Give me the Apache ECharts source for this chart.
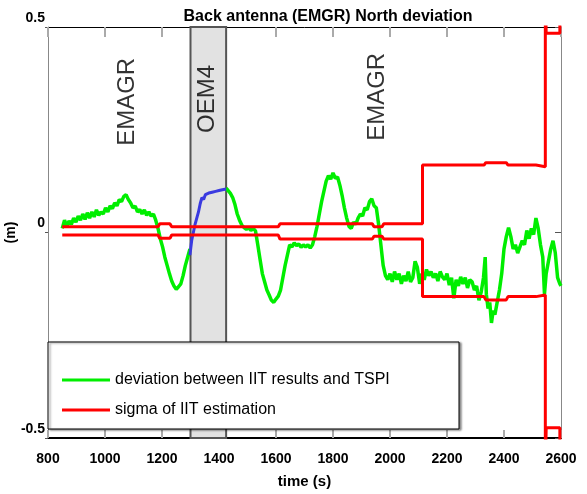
<!DOCTYPE html>
<html lang="en">
<head>
    <meta charset="UTF-8">
    <title>Back antenna (EMGR) North deviation</title>
    <script src="https://cdn.jsdelivr.net/npm/echarts@6/dist/echarts.min.js"></script>
    <style>
        html, body, #main {
            padding: 0px;
            margin: 0px;
            width: 587px;
            height: 494px;
            background: #fff;
        }
    </style>
</head>
<body>
<div id="main"></div>
<script type="text/javascript">
    // green: deviation between IIT results and TSPI (null = gap during OEM4 period)
    var greenTime = [850, 858, 866, 874, 882, 890, 898, 906, 914, 922, 930, 938, 946, 954, 962, 970, 978, 986, 994,
        1002, 1010, 1018, 1026, 1034, 1042, 1050, 1058, 1066, 1074, 1082, 1090, 1098, 1106, 1114, 1122, 1130, 1138,
        1146, 1154, 1162, 1170, 1178, 1186, 1194, 1202, 1210, 1218, 1226, 1234, 1242, 1250, 1258, 1266, 1274, 1282,
        1290, 1298, 1360,
        1425, 1432, 1440, 1448, 1456, 1464, 1472, 1480, 1488, 1496, 1504, 1512, 1520, 1528, 1536, 1544, 1552, 1560,
        1568, 1576, 1584, 1592, 1600, 1608, 1616, 1624, 1632, 1640, 1648, 1656, 1664, 1672, 1680, 1688, 1696, 1704,
        1712, 1720, 1728, 1736, 1744, 1752, 1760, 1768, 1776, 1784, 1792, 1800, 1808, 1816, 1824, 1832, 1840, 1848,
        1856, 1864, 1872, 1880, 1888, 1896, 1904, 1912, 1920, 1928, 1936, 1944, 1952, 1960, 1968, 1976, 1984, 1992,
        2000, 2008, 2016, 2024, 2032, 2040, 2048, 2056, 2064, 2072, 2080, 2088, 2096, 2104, 2112, 2120, 2128, 2136,
        2144, 2152, 2160, 2168, 2176, 2184, 2192, 2200, 2208, 2216, 2224, 2232, 2240, 2248, 2256, 2264, 2272, 2280,
        2288, 2296, 2304, 2312, 2320, 2328, 2334, 2338, 2344, 2350, 2356, 2362, 2368, 2376, 2384, 2392, 2400, 2408,
        2416, 2424, 2432, 2440, 2448, 2456, 2464, 2472, 2480, 2488, 2496, 2504, 2512, 2520, 2528, 2536, 2542, 2548,
        2556, 2564, 2572, 2580, 2588, 2596, 2600];
    var greenDev = [0.010, 0.030, 0.015, 0.028, 0.020, 0.035, 0.025, 0.040, 0.030, 0.045, 0.032, 0.048, 0.035, 0.050,
        0.038, 0.055, 0.042, 0.050, 0.045, 0.060, 0.050, 0.065, 0.058, 0.072, 0.065, 0.080, 0.075, 0.088, 0.092,
        0.080, 0.072, 0.060, 0.064, 0.050, 0.056, 0.045, 0.055, 0.042, 0.050, 0.040, 0.045, 0.030, 0.010, -0.015,
        -0.035, -0.060, -0.080, -0.100, -0.118, -0.130, -0.138, -0.132, -0.125, -0.105, -0.080, -0.060, -0.040, null,
        0.108, 0.110, 0.095, 0.085, 0.068, 0.045, 0.030, 0.018, 0.012, 0.008, 0.012, 0.005, 0.010, 0.004, -0.030,
        -0.065, -0.100, -0.120, -0.140, -0.152, -0.165, -0.170, -0.162, -0.155, -0.140, -0.110, -0.080, -0.055,
        -0.030, -0.035, -0.025, -0.032, -0.028, -0.036, -0.030, -0.035, -0.030, -0.038, -0.030, -0.010, 0.015, 0.045,
        0.075, 0.100, 0.125, 0.138, 0.130, 0.145, 0.132, 0.135, 0.115, 0.090, 0.060, 0.035, 0.015, 0.010, 0.025,
        0.020, 0.035, 0.045, 0.040, 0.060, 0.055, 0.075, 0.082, 0.065, 0.060, 0.020, -0.030, -0.080, -0.105, -0.115,
        -0.100, -0.120, -0.095, -0.115, -0.100, -0.125, -0.105, -0.118, -0.095, -0.120, -0.110, -0.070, -0.085,
        -0.125, -0.100, -0.115, -0.090, -0.105, -0.095, -0.110, -0.100, -0.118, -0.095, -0.108, -0.115, -0.100,
        -0.128, -0.110, -0.160, -0.115, -0.130, -0.108, -0.125, -0.110, -0.135, -0.115, -0.120, -0.140, -0.130,
        -0.165, -0.145, -0.110, -0.060, -0.150, -0.185, -0.170, -0.220, -0.190, -0.200, -0.170, -0.140, -0.100,
        -0.040, -0.010, 0.012, -0.010, -0.040, -0.030, -0.050, -0.035, -0.020, -0.030, 0.005, -0.015, 0.010, -0.005,
        0.035, 0.010, -0.030, -0.060, -0.150, -0.100, -0.070, -0.040, -0.020, -0.050, -0.110, -0.125, -0.130];

    // blue: OEM4 period
    var blueTime = [1298, 1304, 1310, 1316, 1322, 1328, 1334, 1340, 1346, 1352, 1358, 1364, 1370, 1376, 1382, 1388,
        1394, 1400, 1406, 1412, 1418, 1425];
    var blueDev = [-0.055, -0.020, 0.000, 0.020, 0.035, 0.050, 0.070, 0.085, 0.080, 0.092, 0.088, 0.096, 0.092,
        0.098, 0.094, 0.100, 0.096, 0.102, 0.098, 0.104, 0.100, 0.106];

    // red: sigma of IIT estimation (upper / lower envelopes)
    var sigmaTime = [850, 1186, 1192, 1228, 1234, 1608, 1614, 1938, 1944, 1972, 1978, 2114, 2114, 2330, 2336,
        2408, 2414, 2512, 2518, 2545, 2545, 2548, 2548, 2596, 2596];
    var sigmaUp = [0.014, 0.014, 0.021, 0.021, 0.014, 0.014, 0.021, 0.021, 0.014, 0.014, 0.021, 0.021, 0.164,
        0.164, 0.170, 0.170, 0.164, 0.164, 0.160, 0.160, 0.600, 0.600, 0.485, 0.485, 0.600];
    var sigmaLow = [-0.006, -0.006, -0.014, -0.014, -0.006, -0.006, -0.016, -0.016, -0.009, -0.009, -0.016,
        -0.016, -0.156, -0.156, -0.164, -0.164, -0.156, -0.156, -0.152, -0.152, -0.600, -0.600, -0.475, -0.475,
        -0.600];

    // receiver periods
    var oemBand = [1300, 1425];
    var noteX = [1077, 1358, 1954];
    var noteY = [0.318, 0.325, 0.33];
    var noteText = ['EMAGR', 'OEM4', 'EMAGR'];

    var yTicks = [-0.5, 0, 0.5];

    function zip(a, b) {
        return a.map(function (v, i) { return [v, b[i]]; });
    }

    var chart = echarts.init(document.getElementById('main'));
    var bold = { fontFamily: 'Arial, Liberation Sans', fontWeight: 'bold', color: '#000' };

    var option = {
        animation: false,
        backgroundColor: '#fff',
        title: {
            text: 'Back antenna (EMGR) North deviation',
            left: 323,
            top: 4,
            textAlign: 'center',
            textStyle: Object.assign({ fontSize: 16 }, bold)
        },
        grid: { left: 48, right: 26, top: 27, bottom: 56, containLabel: false, outerBoundsMode: 'none' },
        legend: {
            orient: 'vertical',
            left: 57,
            top: 366,
            z: 20,
            icon: 'rect',
            itemWidth: 48,
            itemHeight: 3,
            itemGap: 12,
            data: ['deviation between IIT results and TSPI', 'sigma of IIT estimation'],
            textStyle: { fontFamily: 'Arial, Liberation Sans', fontSize: 16, color: '#000', lineHeight: 18 }
        },
        graphic: [{
            type: 'rect',
            z: 10,
            shape: { x: 48, y: 342, width: 411, height: 87 },
            style: { fill: '#fff', stroke: '#000', lineWidth: 1, shadowColor: 'rgba(0,0,0,0.45)', shadowOffsetX: 2, shadowOffsetY: 1, shadowBlur: 2 }
        }],
        xAxis: [{
            type: 'value',
            min: 800,
            max: 2600,
            interval: 200,
            name: 'time (s)',
            nameLocation: 'middle',
            nameGap: 36,
            nameTextStyle: Object.assign({ fontSize: 15 }, bold),
            axisLine: { onZero: false, lineStyle: { color: '#000', width: 2 } },
            axisTick: { inside: true, length: 8, lineStyle: { color: '#aaa', width: 2 } },
            axisLabel: Object.assign({ fontSize: 14, margin: 14, formatter: function (v) { return String(v); } }, bold),
            splitLine: { show: false }
        }, {
            type: 'value',
            position: 'top',
            min: 800,
            max: 2600,
            interval: 200,
            axisLine: { onZero: false, lineStyle: { color: '#000', width: 1 } },
            axisTick: { inside: true, length: 10, lineStyle: { color: '#aaa', width: 2 } },
            axisLabel: { show: false },
            splitLine: { show: false }
        }],
        yAxis: [{
            type: 'value',
            min: yTicks[0],
            max: yTicks[2],
            interval: 0.5,
            name: '(m)',
            nameLocation: 'middle',
            nameRotate: 90,
            nameGap: 30,
            nameMoveOverlap: false,
            nameTextStyle: Object.assign({ fontSize: 14 }, bold),
            axisLine: { onZero: false, lineStyle: { color: '#888', width: 1 } },
            axisTick: { show: true, length: 3, lineStyle: { color: '#555' } },
            axisLabel: Object.assign({ fontSize: 14, margin: 3, verticalAlign: 'bottom', padding: [0, 0, 2, 0] }, bold),
            splitLine: { show: false }
        }, {
            type: 'value',
            position: 'right',
            min: yTicks[0],
            max: yTicks[2],
            interval: 0.5,
            axisLine: { onZero: false, lineStyle: { color: '#888', width: 1 } },
            axisTick: { inside: true, length: 6, lineStyle: { color: '#555' } },
            axisLabel: { show: false },
            splitLine: { show: false }
        }],
        series: [{
            type: 'line',
            z: 1,
            data: [],
            markArea: {
                silent: true,
                itemStyle: { color: '#e2e2e2', borderColor: '#555', borderWidth: 2 },
                data: [[{ xAxis: oemBand[0] }, { xAxis: oemBand[1] }]]
            }
        }, {
            name: 'deviation between IIT results and TSPI',
            type: 'line',
            z: 3,
            showSymbol: false,
            symbol: 'none',
            connectNulls: false,
            color: '#00ee00',
            lineStyle: { color: '#00ee00', width: 3.5 },
            data: zip(greenTime, greenDev)
        }, {
            name: 'OEM4',
            type: 'line',
            z: 3,
            symbol: 'none',
            color: '#3a3ae0',
            lineStyle: { color: '#3a3ae0', width: 3 },
            data: zip(blueTime, blueDev)
        }, {
            name: 'sigma of IIT estimation',
            type: 'line',
            z: 4,
            symbol: 'none',
            color: '#ff0000',
            lineStyle: { color: '#ff0000', width: 3 },
            data: zip(sigmaTime, sigmaUp)
        }, {
            name: 'sigma of IIT estimation',
            type: 'line',
            z: 4,
            symbol: 'none',
            color: '#ff0000',
            lineStyle: { color: '#ff0000', width: 3 },
            data: zip(sigmaTime, sigmaLow)
        }, {
            type: 'scatter',
            z: 5,
            symbolSize: 0,
            silent: true,
            label: {
                show: true,
                position: 'inside',
                rotate: 90,
                formatter: function (p) { return p.name; },
                fontFamily: 'Arial, Liberation Sans',
                fontSize: 24,
                color: '#000'
            },
            data: noteX.map(function (x, i) { return { name: noteText[i], value: [x, noteY[i]] }; })
        }]
    };

    chart.setOption(option);
</script>
</body>
</html>
